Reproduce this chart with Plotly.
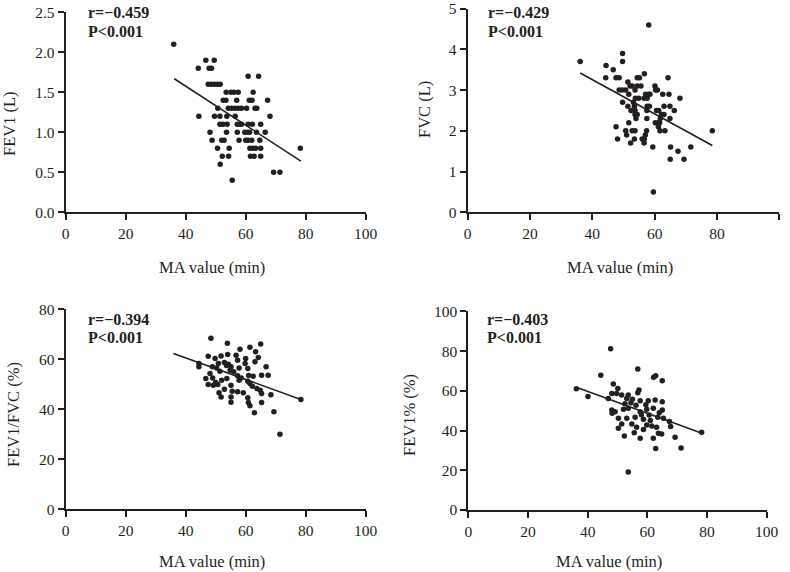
import plotly.graph_objects as go

# ---------------- data ----------------
ma1 = [36, 46.7, 49.5, 44.2, 47.8, 48.6, 60.8, 64.3,
       47.5, 48.5, 49.5, 50.5, 51.5,
       53.5, 55.1, 56.1, 57.5, 62.5,
       52.5, 53.4, 57, 61.2, 62.1, 67.3,
       50.7, 54.2, 55.3, 56.4, 57.5, 58.6, 60.3, 63.1, 63.7,
       44.4, 49.6, 51.4, 53.7, 56.5, 68.1,
       51.4, 52.4, 53.8, 57.2, 58.1, 58.6, 60.8, 62.2, 65,
       48.1, 53.6, 57.2, 59.7, 60.5, 61.3, 63.6, 66.5,
       48.8, 52, 52.8, 57.8, 60, 60.8, 62, 64.7,
       50.6, 54.5, 61.4, 62.3, 63.3, 65, 78.2,
       52.2, 54.3, 61.6, 62.8, 65,
       51.5, 69.3, 71.4, 55.5]
fev1 = [2.1, 1.9, 1.9, 1.8, 1.8, 1.8, 1.7, 1.7,
        1.6, 1.6, 1.6, 1.6, 1.6,
        1.5, 1.5, 1.5, 1.5, 1.5,
        1.4, 1.4, 1.4, 1.4, 1.4, 1.4,
        1.3, 1.3, 1.3, 1.3, 1.3, 1.3, 1.3, 1.3, 1.3,
        1.2, 1.2, 1.2, 1.2, 1.2, 1.2,
        1.1, 1.1, 1.1, 1.1, 1.1, 1.1, 1.1, 1.1, 1.1,
        1.0, 1.0, 1.0, 1.0, 1.0, 1.0, 1.0, 1.0,
        0.9, 0.9, 0.9, 0.9, 0.9, 0.9, 0.9, 0.9,
        0.8, 0.8, 0.8, 0.8, 0.8, 0.8, 0.8,
        0.7, 0.7, 0.7, 0.7, 0.7,
        0.6, 0.5, 0.5, 0.4]
fit1_x = [36.2, 78.4]
fit1_y = [1.67, 0.64]

ma2 = [58.1, 49.7, 36.1, 49.7, 44.4, 46.7, 56.7,
       44.3, 47.6, 48.6, 54.4, 55.1, 64.3,
       51.4,
       52.1, 52.8, 54.4, 55.6, 60.1,
       48.6, 49.6, 50.7, 53.7, 60.3, 60.9,
       51.7, 57.1, 58, 58.5, 62.6, 64.6,
       53.8, 54.9, 56.6, 57.6, 68.1,
       49.7, 53.2,
       51.4, 53.5, 57.6, 58.3, 63, 64.9,
       52.4, 53.7, 57.5, 60.6, 61.3, 66.3,
       53.7, 54.4, 62.2, 63,
       54, 57.5, 61.8, 64.9,
       51.7, 60.2, 61, 61.6,
       47.6, 61.2,
       50.7, 52.8, 53.7, 57.4, 61.7, 63.3, 78.5,
       51, 57,
       48.1, 53.5, 56, 56.7,
       52.3, 56.6,
       59.4, 65.1, 71.6,
       67.5,
       65, 69.4,
       59.6]
fvc = [4.6, 3.9, 3.7, 3.7, 3.6, 3.5, 3.4,
       3.3, 3.3, 3.3, 3.3, 3.3, 3.3,
       3.2,
       3.1, 3.1, 3.1, 3.1, 3.1,
       3.0, 3.0, 3.0, 3.0, 3.0, 3.0,
       2.9, 2.9, 2.9, 2.9, 2.9, 2.9,
       2.8, 2.8, 2.8, 2.8, 2.8,
       2.7, 2.7,
       2.6, 2.6, 2.6, 2.6, 2.6, 2.6,
       2.5, 2.5, 2.5, 2.5, 2.5, 2.5,
       2.4, 2.4, 2.4, 2.4,
       2.3, 2.3, 2.3, 2.3,
       2.2, 2.2, 2.2, 2.2,
       2.1, 2.1,
       2.0, 2.0, 2.0, 2.0, 2.0, 2.0, 2.0,
       1.9, 1.9,
       1.8, 1.8, 1.8, 1.8,
       1.7, 1.7,
       1.6, 1.6, 1.6,
       1.5,
       1.3, 1.3,
       0.5]
fit2_x = [36.1, 78.5]
fit2_y = [3.42, 1.64]

ma3 = [48.4, 53.9, 65, 61.4, 58.1, 63.3,
       47.5, 51.8, 54, 56.8, 60, 64.2,
       44.4, 49.8, 50.9, 52.9, 54.2, 57.3, 59.8, 63.1, 66.8,
       44.4, 48.9, 50.3, 55.1, 57.8, 60.7,
       48.1, 51.4, 54.8,
       46.7, 53.7, 57.3, 62.5, 65.3, 67.5,
       57.8, 60.7, 50, 52,
       47.5, 49.2, 50.7, 55.1, 61.4, 62.2, 63.7,
       52.9, 51.1, 55.5, 57.3, 59.2, 64.8, 65.3, 68.4,
       51.8, 55.1, 60.7,
       55.1, 60.9, 65.3, 61.4,
       62.9, 69.4, 78.4, 71.4,
       53.6, 56, 58.5, 61, 49]
ratio = [68.3, 66.3, 66, 64.7, 63.9, 63,
         61.2, 61.3, 61.9, 61.6, 60.3, 60.7,
         58.3, 60.3, 58.3, 58.7, 58, 59.6, 58.3, 59, 57,
         57, 57, 56.5, 57, 56.5, 56.3,
         54.3, 55.2, 55.6,
         52.3, 52.3, 53.4, 53.2, 53.6, 53.6,
         51.6, 51.2, 50.7, 51.6,
         49.9, 49.6, 49.9, 49.6, 50.3, 49.2, 48.3,
         48, 46.6, 47.2, 47, 46.6, 47.6, 46.3, 45.8,
         44.9, 44.9, 44.6,
         42.8, 42.7, 42.7, 41.4,
         38.6, 39, 43.9, 30,
         57.5, 55, 52.5, 53.5, 52.5]
fit3_x = [35.9, 78.4]
fit3_y = [62.3, 43.9]

ma4 = [47.7, 56.8, 62.1, 62.8, 65, 44.4, 36.2, 40.1,
       48.6, 57.2, 56.8, 50.1,
       46.9, 48.1, 49.7, 51.4, 53.6, 53.1, 55, 57.6, 60.3, 62.6, 65,
       48.1, 49.2, 52, 53.6, 56.2, 57.6, 59.8, 62, 65,
       50.3, 53.1, 55.9, 58.7, 60.6, 63.5, 65.4, 67.4, 67.8,
       51.4, 50.3, 54.8, 56.4, 59.8, 61.5, 63.1,
       55.6, 58.7, 63.7, 52.3, 57.6, 62, 64.8, 69.3,
       62.8, 71.3, 78.2, 53.6,
       54.5, 58, 61, 52.5, 59.5, 64, 48.2]
fev1pct = [81.2, 71, 66.8, 67.6, 65.1, 67.8, 61, 57.2,
           63.4, 60.4, 59, 61.2,
           56.2, 58.7, 58.7, 57.9, 57.9, 56.2, 55.7, 55, 55, 55.4, 54.5,
           50.3, 49.5, 50.7, 51.2, 52.7, 49.5, 50.7, 51.2, 50.3,
           46.2, 46.2, 46.7, 45.7, 47.8, 46.7, 46.2, 44.5, 42,
           43.3, 41.2, 43.3, 41.6, 42.8, 42.3, 41.6,
           38.9, 40.5, 38.6, 37.3, 36.1, 36.1, 38.3, 36.6,
           31, 31.2, 39.1, 19.1,
           54, 48, 45, 53.5, 53, 49, 48.7]
fit4_x = [36.2, 78.3]
fit4_y = [61.8, 38.6]

x_ticks = [0, 20, 40, 60, 80, 100]
y_ticks = [[0, 0.5, 1.0, 1.5, 2.0, 2.5],
           [0, 1, 2, 3, 4, 5],
           [0, 20, 40, 60, 80],
           [0, 20, 40, 60, 80, 100]]
y_ticktext = [["0.0", "0.5", "1.0", "1.5", "2.0", "2.5"],
              ["0", "1", "2", "3", "4", "5"],
              ["0", "20", "40", "60", "80"],
              ["0", "20", "40", "60", "80", "100"]]
x_title = "MA value (min)"
y_titles = ["FEV1 (L)", "FVC (L)", "FEV1/FVC (%)", "FEV1% (%)"]
r_labels = ["r=\u22120.459", "r=\u22120.429", "r=\u22120.394", "r=\u22120.403"]
p_label = "P<0.001"
y_ranges = [[0, 2.5], [0, 5], [0, 80], [0, 100]]

# ---------------- layout geometry (pixels) ----------------
W, H = 790, 572
FONT = "Liberation Serif, Times New Roman, serif"
INK = "#231f20"

def fx(px):
    return px / W

def fy(py):
    return 1 - py / H

panels = [
    dict(x0=65.7, x1=365.7, y0=212.3, y1=12.3),
    dict(x0=467.7, x1=779.3, y0=212.3, y1=8.5),
    dict(x0=65.7, x1=365.7, y0=509.3, y1=309.0),
    dict(x0=468.3, x1=766.7, y0=510.0, y1=311.3),
]
xt_pos = [(212, 267), (620, 267), (212, 561), (609, 561)]
yt_pos = [(10, 124), (425, 110), (13, 415), (409, 415)]
txt_pos = [(86, 12.5, 31.5), (486, 12.5, 31.5), (86, 319.3, 337.7), (485, 319.3, 337.7)]

data_sets = [(ma1, fev1, fit1_x, fit1_y), (ma2, fvc, fit2_x, fit2_y),
             (ma3, ratio, fit3_x, fit3_y), (ma4, fev1pct, fit4_x, fit4_y)]

fig = go.Figure()
annotations = []
layout = {}
for i, (p, (xs, ys, fxs, fys)) in enumerate(zip(panels, data_sets)):
    n = "" if i == 0 else str(i + 1)
    xa, ya = "x" + n, "y" + n
    fig.add_trace(go.Scatter(x=xs, y=ys, mode="markers", xaxis=xa, yaxis=ya,
                             marker=dict(size=5.5, color=INK), showlegend=False,
                             cliponaxis=False))
    fig.add_trace(go.Scatter(x=fxs, y=fys, mode="lines", xaxis=xa, yaxis=ya,
                             line=dict(color=INK, width=1.6), showlegend=False))
    common = dict(showline=True, linewidth=2, linecolor=INK, ticks="outside",
                  ticklen=6, tickwidth=2, tickcolor=INK, showgrid=False,
                  zeroline=False, automargin=False,
                  tickfont=dict(family=FONT, size=15.5, color=INK))
    layout["xaxis" + n] = dict(common, domain=[fx(p["x0"]), fx(p["x1"])],
                               range=[0, 100], tickmode="array", tickvals=x_ticks,
                               anchor=ya)
    yr = y_ranges[i]
    layout["yaxis" + n] = dict(common, domain=[fy(p["y0"]), fy(p["y1"])],
                               range=[yr[0], yr[1] * 1.0004], tickmode="array",
                               tickvals=y_ticks[i], ticktext=y_ticktext[i], anchor=xa)
    # axis titles
    annotations.append(dict(text=x_title, x=fx(xt_pos[i][0]), y=fy(xt_pos[i][1]),
                            xref="paper", yref="paper", showarrow=False,
                            xanchor="center", yanchor="middle",
                            font=dict(family=FONT, size=16.5, color=INK)))
    annotations.append(dict(text=y_titles[i], x=fx(yt_pos[i][0]), y=fy(yt_pos[i][1]),
                            xref="paper", yref="paper", showarrow=False, textangle=-90,
                            xanchor="center", yanchor="middle",
                            font=dict(family=FONT, size=16.5, color=INK)))
    tx, ty1, ty2 = txt_pos[i]
    annotations.append(dict(text="<b>" + r_labels[i] + "</b>", x=fx(tx), y=fy(ty1),
                            xref="paper", yref="paper", showarrow=False,
                            xanchor="left", yanchor="middle",
                            font=dict(family=FONT, size=16, color=INK)))
    annotations.append(dict(text="<b>" + p_label + "</b>", x=fx(tx), y=fy(ty2),
                            xref="paper", yref="paper", showarrow=False,
                            xanchor="left", yanchor="middle",
                            font=dict(family=FONT, size=16, color=INK)))

fig.update_layout(width=W, height=H, margin=dict(l=0, r=0, t=0, b=0),
                  paper_bgcolor="white", plot_bgcolor="white",
                  annotations=annotations, **layout)
fig.write_html("out.html", config={"displayModeBar": False},
               post_script="document.body.style.margin='0px';"
                           "document.body.style.overflow='hidden';")
